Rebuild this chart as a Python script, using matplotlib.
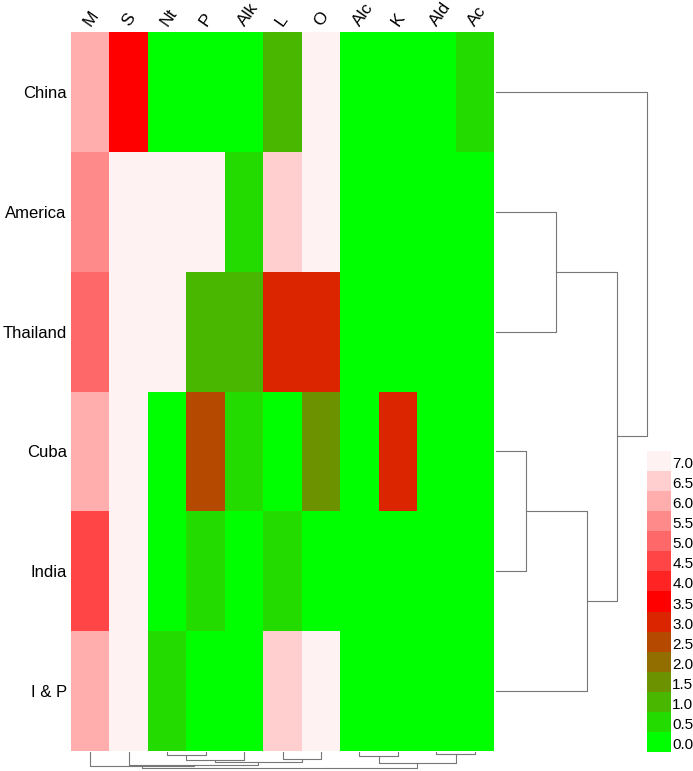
import numpy as np
import matplotlib
matplotlib.use('Agg')
import matplotlib.pyplot as plt
from matplotlib.colors import ListedColormap, BoundaryNorm

plt.rcParams['font.family'] = ['Liberation Sans', 'DejaVu Sans']

# data
rows = ['China', 'America', 'Thailand', 'Cuba', 'India', 'I & P']
cols = ['M', 'S', 'Nt', 'P', 'Alk', 'L', 'O', 'Alc', 'K', 'Ald', 'Ac']
values = [
    [6.0, 3.5, 0.0, 0.0, 0.0, 1.0, 7.0, 0.0, 0.0, 0.0, 0.5],
    [5.5, 7.0, 7.0, 7.0, 0.5, 6.5, 7.0, 0.0, 0.0, 0.0, 0.0],
    [5.0, 7.0, 7.0, 1.0, 1.0, 3.0, 3.0, 0.0, 0.0, 0.0, 0.0],
    [6.0, 7.0, 0.0, 2.5, 0.5, 0.0, 1.5, 0.0, 3.0, 0.0, 0.0],
    [4.5, 7.0, 0.0, 0.5, 0.0, 0.5, 0.0, 0.0, 0.0, 0.0, 0.0],
    [6.0, 7.0, 0.5, 0.0, 0.0, 6.5, 7.0, 0.0, 0.0, 0.0, 0.0],
]
scale_ticks = [0.0, 0.5, 1.0, 1.5, 2.0, 2.5, 3.0, 3.5, 4.0, 4.5, 5.0, 5.5, 6.0, 6.5, 7.0]

# dendrograms: (left, right, height); leaves are 0..n-1, new clusters n, n+1, ...
row_links = [(3, 4, 1.0), (1, 2, 2.0), (6, 5, 3.0), (7, 8, 4.0), (0, 9, 5.0)]
col_links = [(9, 10, 2.0), (2, 3, 3.3), (7, 8, 4.0), (5, 6, 7.0), (12, 4, 7.7),
             (15, 14, 10.0), (13, 11, 11.0), (1, 16, 12.7), (0, 18, 14.3), (19, 17, 16.0)]

# colour ramp green -> red -> near white
green = np.array([0, 255, 0]) / 255
red = np.array([255, 0, 0]) / 255
pale = np.array([255, 242, 242]) / 255
ramp = [green + (red - green) * i / 7 for i in range(8)]
ramp += [red + (pale - red) * i / 7 for i in range(1, 8)]
cmap = ListedColormap(ramp)
bounds = np.arange(-0.25, 7.3, 0.5)
norm = BoundaryNorm(bounds, cmap.N)


def dendro_segments(links, n):
    pos = {i: float(i) for i in range(n)}
    hgt = {i: 0.0 for i in range(n)}
    segs = []
    for k, (a, b, h) in enumerate(links):
        segs.append(([pos[a], pos[a], pos[b], pos[b]], [hgt[a], h, h, hgt[b]]))
        pos[n + k] = (pos[a] + pos[b]) / 2
        hgt[n + k] = h
    return segs


W, H = 693, 771
fig = plt.figure(figsize=(W / 100, H / 100), dpi=100)


def px_axes(x0, y0, x1, y1):
    return fig.add_axes([x0 / W, 1 - y1 / H, (x1 - x0) / W, (y1 - y0) / H])


# heatmap
ax = px_axes(71, 32, 494, 751)
data = np.array(values)
ax.pcolormesh(np.arange(len(cols) + 1) - 0.5, np.arange(len(rows) + 1) - 0.5, data,
              cmap=cmap, norm=norm)
ax.set_xlim(-0.5, len(cols) - 0.5)
ax.set_ylim(len(rows) - 0.5, -0.5)
ax.set_yticks(range(len(rows)))
ax.set_yticklabels(rows, fontsize=12)
ax.tick_params(axis='y', length=0, pad=3)
ax.set_xticks([])
for i, c in enumerate(cols):
    ax.text(i - 0.08, -0.56, c, rotation=55, rotation_mode='anchor',
            ha='left', va='center', fontsize=12.5)
for s in ax.spines.values():
    s.set_visible(False)

# row dendrogram
axr = px_axes(496, 32, 693, 751)
for xs, ys in dendro_segments(row_links, len(rows)):
    axr.plot(ys, xs, color='#777777', lw=0.8)
axr.set_xlim(0, 5.0 * 197 / 151)
axr.set_ylim(len(rows) - 0.5, -0.5)
axr.axis('off')

# column dendrogram
axc = px_axes(71, 752, 494, 771)
for xs, ys in dendro_segments(col_links, len(cols)):
    axc.plot(xs, ys, color='#777777', lw=0.8)
axc.set_xlim(-0.5, len(cols) - 0.5)
axc.set_ylim(16.0 * 19 / 16, 0)
axc.axis('off')

# colour key
axk = px_axes(647, 451, 671, 752)
axk.pcolormesh([0, 1], np.arange(len(scale_ticks) + 1), np.array(scale_ticks)[:, None],
               cmap=cmap, norm=norm)
axk.set_xlim(0, 1)
axk.set_ylim(0, len(scale_ticks))
axk.axis('off')
for i, t in enumerate(scale_ticks):
    axk.text(1.05, i + 0.0, f'{t:.1f}', ha='left', va='bottom', fontsize=11)

fig.savefig('out.png', dpi=100)
